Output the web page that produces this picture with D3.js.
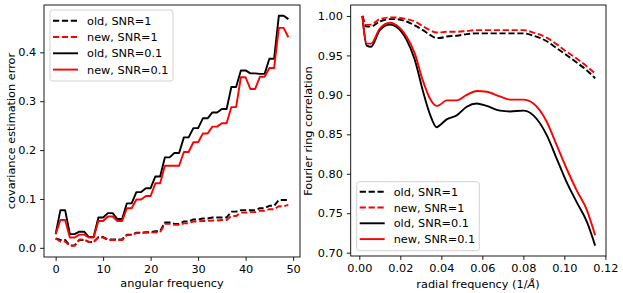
<!DOCTYPE html>
<html><head><meta charset="utf-8">
<script src="https://cdn.jsdelivr.net/npm/d3@7"></script>
<style>
body{margin:0;background:#fff;}
text{font-family:"DejaVu Sans",sans-serif;}
</style></head>
<body><svg id="c" width="623" height="293"></svg>
<script>
// ---------- data: left panel ----------
const angFreq = d3.range(0, 50);
const covOldSNR1 = [0.019,0.016,0.016,0.005,0.005,0.016,0.016,0.012,0.012,0.022,0.022,0.017,0.017,0.017,0.017,0.027,0.027,0.031,0.031,0.032,0.032,0.034,0.034,0.052,0.052,0.049,0.049,0.054,0.054,0.058,0.058,0.060,0.060,0.062,0.062,0.062,0.062,0.074,0.074,0.077,0.077,0.077,0.077,0.081,0.081,0.086,0.086,0.098,0.098,0.098];
const covNewSNR1 = [0.019,0.013,0.013,0.004,0.004,0.017,0.017,0.012,0.012,0.021,0.021,0.016,0.016,0.016,0.016,0.026,0.026,0.030,0.030,0.031,0.031,0.032,0.032,0.049,0.049,0.047,0.047,0.050,0.050,0.054,0.054,0.055,0.055,0.056,0.056,0.057,0.057,0.065,0.065,0.072,0.072,0.073,0.073,0.076,0.076,0.079,0.079,0.085,0.085,0.088];
const covOldSNR01 = [0.028,0.077,0.077,0.028,0.028,0.033,0.033,0.022,0.022,0.062,0.062,0.071,0.071,0.059,0.059,0.091,0.091,0.114,0.114,0.122,0.122,0.146,0.146,0.185,0.185,0.194,0.194,0.226,0.226,0.245,0.245,0.265,0.265,0.277,0.277,0.284,0.284,0.329,0.329,0.363,0.363,0.357,0.357,0.356,0.356,0.387,0.387,0.475,0.475,0.468];
const covNewSNR01 = [0.028,0.057,0.057,0.021,0.021,0.027,0.027,0.021,0.021,0.055,0.055,0.064,0.064,0.055,0.055,0.081,0.081,0.099,0.099,0.106,0.106,0.132,0.132,0.168,0.168,0.168,0.168,0.196,0.196,0.216,0.216,0.234,0.234,0.248,0.248,0.255,0.255,0.288,0.288,0.349,0.349,0.325,0.325,0.350,0.350,0.368,0.368,0.450,0.450,0.431];
const leftYTicks = [0.0,0.1,0.2,0.3,0.4];
const leftXTicks = [0,10,20,30,40,50];

// ---------- data: right panel ----------
const radFreq = [0.0015,0.0036,0.0057,0.010,0.015,0.018,0.023,0.027,0.031,0.0345,0.0377,0.039,0.0426,0.0475,0.0524,0.0572,0.0621,0.0686,0.0735,0.080,0.0849,0.0914,0.0963,0.101,0.106,0.111,0.115];
const frcOldSNR1 = [1.0,0.9865,0.9865,0.993,0.996,0.996,0.993,0.988,0.982,0.976,0.972,0.972,0.974,0.975,0.977,0.978,0.978,0.978,0.978,0.978,0.975,0.968,0.959,0.9505,0.941,0.931,0.921];
const frcNewSNR1 = [1.0,0.9886,0.989,0.996,0.998,0.998,0.996,0.993,0.987,0.982,0.979,0.979,0.980,0.980,0.981,0.982,0.982,0.982,0.982,0.982,0.979,0.9725,0.964,0.955,0.946,0.936,0.927];
const frcOldSNR01 = [1.0,0.9624,0.961,0.982,0.989,0.9865,0.970,0.945,0.905,0.875,0.859,0.861,0.869,0.874,0.885,0.889,0.886,0.880,0.879,0.880,0.874,0.849,0.819,0.790,0.764,0.739,0.709];
const frcNewSNR01 = [1.0,0.965,0.965,0.984,0.9915,0.9886,0.974,0.953,0.918,0.895,0.886,0.887,0.893,0.893,0.900,0.905,0.904,0.898,0.894,0.894,0.889,0.866,0.836,0.807,0.779,0.754,0.722];
const rightYTicks = [0.70,0.75,0.80,0.85,0.90,0.95,1.00];
const rightXTicks = [0.00,0.02,0.04,0.06,0.08,0.10,0.12];

const seriesNames = ["old, SNR=1","new, SNR=1","old, SNR=0.1","new, SNR=0.1"];
const seriesColors = ["#000000","#ff0000","#000000","#ff0000"];
const seriesDashed = [true,true,false,false];

const FS = 11.3;
const LW = 1.9;
const svg = d3.select("#c");
const dash = "6.2,2.7";

function panel(opts){
  const {x0,x1,y0,y1,xDom,yDom,xTicks,yTicks,xFmt,yFmt,xs,ys,curve,legend} = opts;
  const x = d3.scaleLinear().domain(xDom).range([x0,x1]);
  const y = d3.scaleLinear().domain(yDom).range([y1,y0]);
  const g = svg.append("g");
  const gx = g.append("g").attr("transform",`translate(0,${y1})`)
    .call(d3.axisBottom(x).tickValues(xTicks).tickFormat(xFmt).tickSizeOuter(0).tickSize(3.9).tickPadding(3.9));
  const gy = g.append("g").attr("transform",`translate(${x0},0)`)
    .call(d3.axisLeft(y).tickValues(yTicks).tickFormat(yFmt).tickSizeOuter(0).tickSize(3.9).tickPadding(3.9));
  [gx,gy].forEach(a=>{
    a.select(".domain").remove();
    a.selectAll("text").attr("font-size",FS).attr("fill","#000").attr("font-family","DejaVu Sans");
    a.selectAll("line").attr("stroke","#000").attr("stroke-width",0.9);
  });
  const clipId = "clip"+Math.round(x0);
  g.append("clipPath").attr("id",clipId).append("rect").attr("x",x0).attr("y",y0).attr("width",x1-x0).attr("height",y1-y0);
  const line = d3.line().x((d,i)=>x(xs[i])).y(d=>y(d)).curve(curve);
  const lg = g.append("g").attr("clip-path",`url(#${clipId})`);
  ys.forEach((s,k)=>{
    lg.append("path").datum(s).attr("d",line).attr("fill","none")
      .attr("stroke",seriesColors[k]).attr("stroke-width",LW)
      .attr("stroke-dasharray",seriesDashed[k]?dash:null)
      .attr("stroke-linejoin","round");
  });
  g.append("rect").attr("x",x0).attr("y",y0).attr("width",x1-x0).attr("height",y1-y0)
    .attr("fill","none").attr("stroke","#000").attr("stroke-width",0.9);
  // legend
  const L = legend;
  const lgd = g.append("g");
  lgd.append("rect").attr("x",L.x).attr("y",L.y).attr("width",L.w).attr("height",L.h)
    .attr("rx",2.5).attr("fill","#fff").attr("fill-opacity",0.8).attr("stroke","#cccccc").attr("stroke-width",0.9);
  seriesNames.forEach((n,k)=>{
    const yy = L.y + L.first + k*L.step;
    lgd.append("line").attr("x1",L.x+3).attr("x2",L.x+28).attr("y1",yy).attr("y2",yy)
      .attr("stroke",seriesColors[k]).attr("stroke-width",LW)
      .attr("stroke-dasharray",seriesDashed[k]?dash:null);
    lgd.append("text").attr("x",L.x+37).attr("y",yy).attr("dy","0.36em")
      .attr("font-size",FS).attr("fill","#000").text(n);
  });
  return {x,y};
}

// left panel
panel({x0:44,x1:300,y0:5,y1:257,xDom:[-2.45,51.45],yDom:[-0.0188,0.4969],
  xTicks:leftXTicks,yTicks:leftYTicks,xFmt:d3.format("d"),yFmt:d3.format(".1f"),
  xs:angFreq,ys:[covOldSNR1,covNewSNR1,covOldSNR01,covNewSNR01],curve:d3.curveLinear,
  legend:{x:50,y:10,w:123,h:71,first:10.7,step:16.3}});
svg.append("text").attr("transform","translate(11,131) rotate(-90)").attr("text-anchor","middle")
  .attr("dy","0.35em").attr("font-size",FS).text("covariance estimation error");
svg.append("text").attr("x",172).attr("y",283).attr("text-anchor","middle").attr("dy","0.35em")
  .attr("font-size",FS).text("angular frequency");

// right panel
panel({x0:350.7,x1:606,y0:5,y1:256,xDom:[-0.0042,0.1203],yDom:[0.6958,1.0139],
  xTicks:rightXTicks,yTicks:rightYTicks,xFmt:d3.format(".2f"),yFmt:d3.format(".2f"),
  xs:radFreq,ys:[frcOldSNR1,frcNewSNR1,frcOldSNR01,frcNewSNR01],curve:d3.curveMonotoneX,
  legend:{x:356.7,y:181.7,w:122.6,h:69,first:10,step:15.8}});
svg.append("text").attr("transform","translate(308,131) rotate(-90)").attr("text-anchor","middle")
  .attr("dy","0.35em").attr("font-size",FS).text("Fourier ring correlation");
const xl = svg.append("text").attr("x",478).attr("y",284).attr("text-anchor","middle").attr("dy","0.35em")
  .attr("font-size",FS);
xl.append("tspan").text("radial frequency (1/");
xl.append("tspan").attr("font-style","italic").text("Å");
xl.append("tspan").text(")");
</script></body></html>
